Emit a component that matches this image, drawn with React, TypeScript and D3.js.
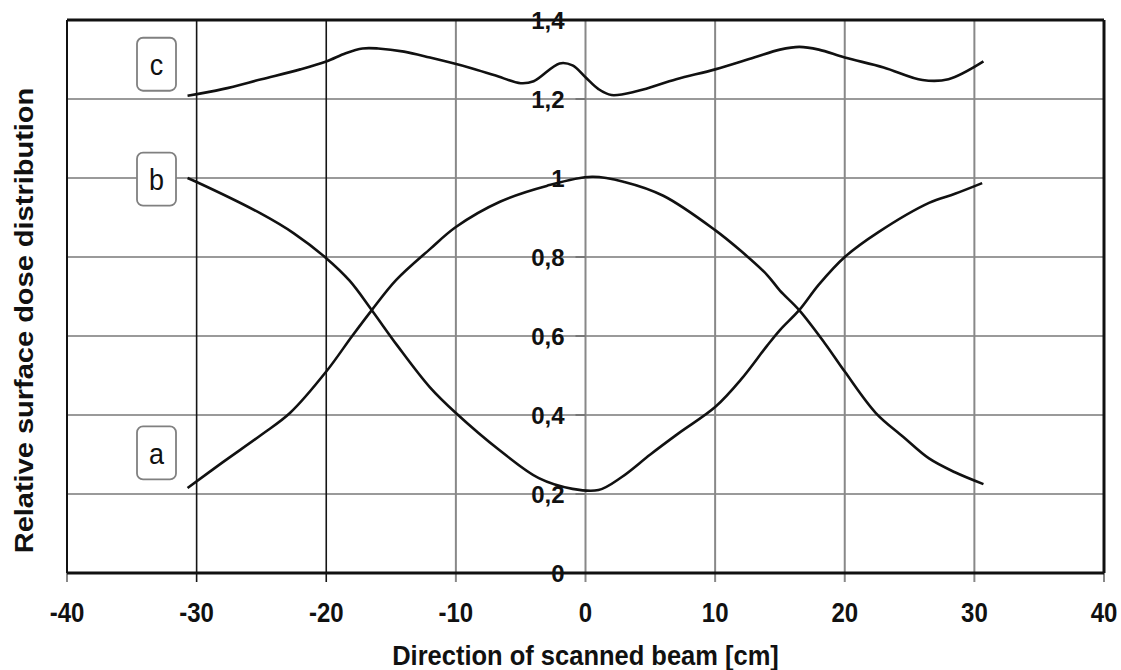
import React from "react";
import * as d3 from "d3";

const xTicks = [-40, -30, -20, -10, 0, 10, 20, 30, 40];
const yTicks = [0, 0.2, 0.4, 0.6, 0.8, 1, 1.2, 1.4];
const yTickLabels = ["0", "0,2", "0,4", "0,6", "0,8", "1", "1,2", "1,4"];
const darkVerticals = [-30, -20];

const curveAx = [-30.7, -28, -25, -22.8, -20, -18, -16.5, -14.6, -12, -10, -6.6, -3, 0.5, 3, 6, 10, 12, 14, 15, 16.5, 18.5, 20, 22.4, 24.5, 26.5, 28.5, 30.7];
const curveAy = [0.215, 0.28, 0.35, 0.405, 0.51, 0.6, 0.665, 0.742, 0.82, 0.876, 0.94, 0.98, 1.003, 0.99, 0.955, 0.868, 0.815, 0.755, 0.715, 0.665, 0.58, 0.51, 0.405, 0.345, 0.29, 0.255, 0.225];

const curveBx = [-30.7, -30, -25.1, -22.5, -20, -18.2, -16.5, -14.5, -12, -10, -6.6, -3.6, -1, 1, 2.8, 5, 7.2, 10, 12, 14, 15, 16.5, 18, 20, 22.6, 26.5, 28.5, 30.6];
const curveBy = [1.0, 0.99, 0.911, 0.86, 0.797, 0.74, 0.666, 0.575, 0.47, 0.405, 0.31, 0.24, 0.213, 0.21, 0.243, 0.3, 0.354, 0.42, 0.49, 0.575, 0.615, 0.666, 0.73, 0.8, 0.863, 0.937, 0.96, 0.987];

const curveCx = [-30.7, -28, -25, -22, -20, -18.5, -17.2, -16, -14, -12, -9, -7, -5, -4, -2, -1, 0, 1, 2, 4, 7, 10, 13, 15, 16.5, 18, 20, 23, 26, 28, 30.7];
const curveCy = [1.208, 1.225, 1.25, 1.275, 1.295, 1.316, 1.328, 1.328, 1.32, 1.305, 1.28, 1.26, 1.24, 1.245, 1.29, 1.285, 1.255, 1.225, 1.21, 1.22, 1.25, 1.275, 1.305, 1.325, 1.332, 1.325, 1.305, 1.28, 1.248, 1.25, 1.295];

const seriesLabels = ["c", "b", "a"];
const seriesLabelY = [1.288, 0.997, 0.304];

const FONT = "'Liberation Sans', Arial, sans-serif";

export default function App() {
  const W = 1121, H = 670;
  const left = 67, right = 1104, top = 20, bottom = 573;
  const x = d3.scaleLinear().domain([-40, 40]).range([left, right]);
  const y = d3.scaleLinear().domain([0, 1.4]).range([bottom, top]);
  const line = d3
    .line<[number, number]>()
    .x((d) => x(d[0]))
    .y((d) => y(d[1]))
    .curve(d3.curveCatmullRom.alpha(0.5));
  const series = [
    curveAx.map((v, i) => [v, curveAy[i]] as [number, number]),
    curveBx.map((v, i) => [v, curveBy[i]] as [number, number]),
    curveCx.map((v, i) => [v, curveCy[i]] as [number, number]),
  ];
  const x0 = x(0);
  return (
    <svg width={W} height={H} style={{ position: "absolute", left: 0, top: 0, background: "#fff" }} fontFamily={FONT}>
      {yTicks.slice(1, -1).map((t) => (
        <line key={"h" + t} x1={left} x2={right} y1={y(t)} y2={y(t)} stroke="#9a9a9a" strokeWidth={2} />
      ))}
      {xTicks.slice(1, -1).map((t) => {
        const dark = darkVerticals.includes(t);
        return (
          <line key={"v" + t} x1={x(t)} x2={x(t)} y1={top} y2={bottom + 9} stroke={dark ? "#151515" : "#888"} strokeWidth={dark ? 1.6 : 2} />
        );
      })}
      {[-40, 40].map((t) => (
        <line key={"et" + t} x1={x(t)} x2={x(t)} y1={bottom} y2={bottom + 9} stroke="#888" strokeWidth={2} />
      ))}
      {yTicks.map((t) => (
        <line key={"yt" + t} x1={x0 - 10} x2={x0} y1={y(t)} y2={y(t)} stroke="#777" strokeWidth={2} />
      ))}
      <line x1={left} x2={right} y1={top} y2={top} stroke="#111" strokeWidth={3} />
      <line x1={left} x2={right} y1={bottom} y2={bottom} stroke="#111" strokeWidth={3} />
      <line x1={left} x2={left} y1={top} y2={bottom} stroke="#111" strokeWidth={2} />
      <line x1={right} x2={right} y1={top} y2={bottom} stroke="#111" strokeWidth={3} />
      {series.map((s, i) => (
        <path key={"s" + i} d={line(s) || ""} fill="none" stroke="#111" strokeWidth={2.6} strokeLinejoin="round" />
      ))}
      {yTicks.map((t, i) => (
        <text key={"yl" + t} x={x0 - 21} y={y(t)} dy="0.36em" textAnchor="end" fontSize={24} fontWeight="bold" fill="#111">
          {yTickLabels[i]}
        </text>
      ))}
      {xTicks.map((t) => (
        <g key={"xl" + t} transform={`translate(${x(t)},622) scale(1,1.15)`}>
          <text x={0} y={0} textAnchor="middle" fontSize={24} fontWeight="bold" fill="#111">
            {t}
          </text>
        </g>
      ))}
      {seriesLabels.map((s, i) => (
        <g key={"lab" + s} transform={`translate(156.5,${y(seriesLabelY[i])})`}>
          <rect x={-19.5} y={-26.5} width={39} height={53} rx={6} fill="#fff" stroke="#808080" strokeWidth={1.8} />
          <g transform="scale(1,1.12)">
            <text x={0} y={0} dy="0.36em" textAnchor="middle" fontSize={27} fill="#111">
              {s}
            </text>
          </g>
        </g>
      ))}
      <g transform={`translate(${x0},665) scale(1,1.12)`}>
        <text x={0} y={0} textAnchor="middle" fontSize={25.5} fontWeight="bold" fill="#111">
          Direction of scanned beam [cm]
        </text>
      </g>
      <g transform={`translate(33,320.5) scale(1,1.16) rotate(-90)`}>
        <text x={0} y={0} textAnchor="middle" fontSize={25} fontWeight="bold" fill="#111">
          Relative surface dose distribution
        </text>
      </g>
    </svg>
  );
}
